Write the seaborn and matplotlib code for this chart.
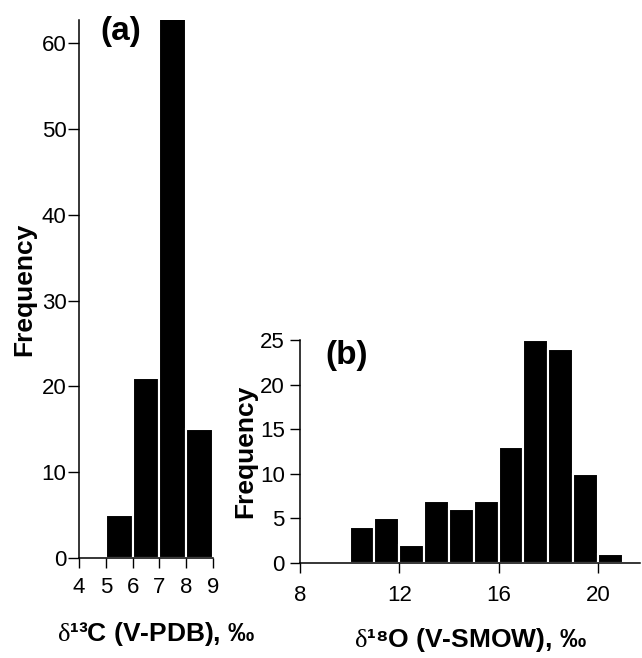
import numpy as np
import pandas as pd
import matplotlib
matplotlib.use('Agg')
import matplotlib.pyplot as plt
import seaborn as sns

# Данные гистограмм
c13_edges = [5, 6, 7, 8, 9]
c13_counts = [5, 21, 63, 15]

o18_edges = [10, 11, 12, 13, 14, 15, 16, 17, 18, 19, 20, 21]
o18_counts = [4, 5, 2, 7, 6, 7, 13, 25, 24, 10, 1]

c13_ticks = [4, 5, 6, 7, 8, 9]
o18_ticks = [8, 12, 16, 20]

sns.set_style('ticks')
plt.rcParams['font.family'] = ['Liberation Sans Narrow', 'Liberation Sans', 'DejaVu Sans']
plt.rcParams['mathtext.fontset'] = 'custom'
plt.rcParams['mathtext.rm'] = 'Liberation Serif'
for k in ['text.color', 'axes.labelcolor', 'xtick.color', 'ytick.color', 'axes.edgecolor']:
    plt.rcParams[k] = 'black'

df_c = pd.DataFrame({'x': np.array(c13_edges[:-1]) + 0.5, 'n': c13_counts})
df_o = pd.DataFrame({'x': np.array(o18_edges[:-1]) + 0.5, 'n': o18_counts})

fig = plt.figure(figsize=(6.42, 6.58), dpi=100)
W, H = 642, 658
ax1 = fig.add_axes([79 / W, 1 - 558 / H, 134 / W, 538 / H])
ax2 = fig.add_axes([300 / W, 1 - 563 / H, 340 / W, 223 / H])

for ax, df, edges in [(ax1, df_c, c13_edges), (ax2, df_o, o18_edges)]:
    sns.histplot(data=df, x='x', weights='n', bins=edges, ax=ax,
                 color='black', edgecolor='white', linewidth=1.5, alpha=1)
    sns.despine(ax=ax)
    ax.tick_params(direction='out', width=1, labelsize=16)
    for s in ['left', 'bottom']:
        ax.spines[s].set_linewidth(1.1)

# (a)
ax1.set_xlim(4, 9)
ax1.set_ylim(0, 62.7)
ax1.set_xticks(c13_ticks)
ax1.set_yticks([0, 10, 20, 30, 40, 50, 60])
ax1.tick_params(axis='x', length=7, pad=7)
ax1.tick_params(axis='y', length=8, pad=1)
ax1.set_xlabel(r'$\mathrm{\delta}$¹³C (V-PDB), ‰', fontsize=19, fontweight='bold')
ax1.xaxis.set_label_coords(0.575, -0.115)
ax1.set_ylabel('Frequency', fontsize=19, fontweight='bold', labelpad=4)
ax1.text(0.16, 0.978, '(a)', transform=ax1.transAxes, fontsize=24,
         fontweight='bold', va='center', ha='left')

# (b)
ax2.set_xlim(8, 21.7)
ax2.set_ylim(0, 25)
ax2.set_xticks(o18_ticks)
ax2.set_yticks([0, 5, 10, 15, 20, 25])
ax2.tick_params(axis='x', length=7, pad=9)
ax2.tick_params(axis='y', length=7, pad=4)
ax2.set_xlabel(r'$\mathrm{\delta}$¹⁸O (V-SMOW), ‰', fontsize=19,
               fontweight='bold', labelpad=14)
ax2.set_ylabel('Frequency', fontsize=19, fontweight='bold', labelpad=2)
ax2.text(0.074, 0.93, '(b)', transform=ax2.transAxes, fontsize=24,
         fontweight='bold', va='center', ha='left')

fig.savefig('out.png', dpi=100)
